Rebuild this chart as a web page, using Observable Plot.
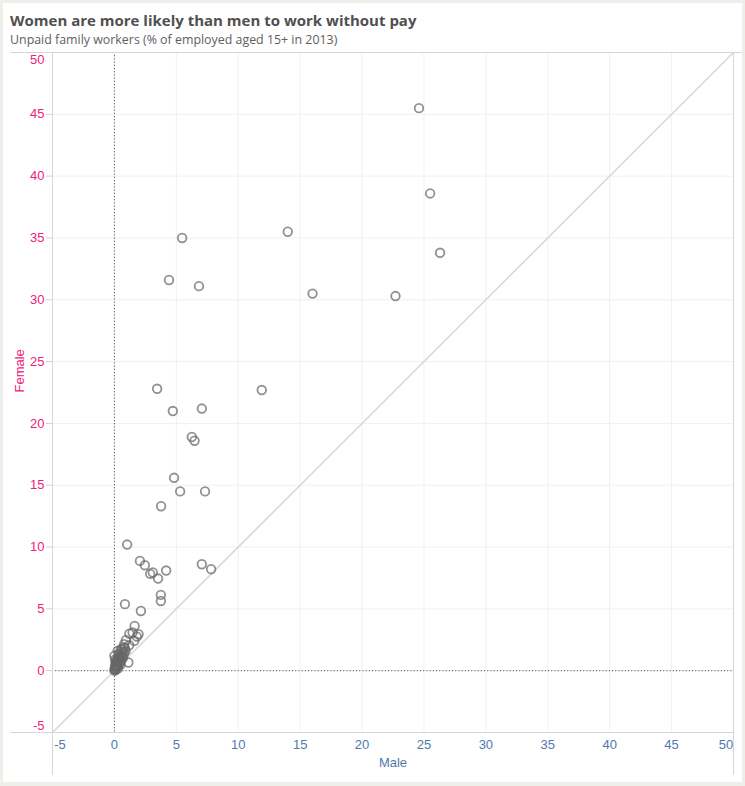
<!DOCTYPE html>
<html>
<head>
<meta charset="utf-8">
<script src="https://cdn.jsdelivr.net/npm/d3@7"></script>
<script src="https://cdn.jsdelivr.net/npm/@observablehq/plot@0.6"></script>
<style>
  html, body { margin: 0; padding: 0; background: #efefea; }
  #wrap { position: relative; width: 745px; height: 786px; overflow: hidden; }
  #panel { position: absolute; left: 3px; top: 3px; width: 739px; height: 779px; background: #fff; }
  #title { position: absolute; left: 10px; top: 10px; font-family: "Open Sans", "DejaVu Sans", sans-serif; font-weight: 700; font-size: 15px; color: #505050; white-space: nowrap; }
  #subtitle { position: absolute; left: 10px; top: 31px; font-family: "Open Sans", "DejaVu Sans", sans-serif; font-size: 12.4px; color: #606060; white-space: nowrap; }
  #chart svg { position: absolute; left: 0; top: 0; }
  .ln { position: absolute; background: #d6d6d6; }
</style>
</head>
<body>
<div id="wrap">
  <div id="panel"></div>
  <div id="chart"></div>
  <div class="ln" style="left:10px; top:51.5px; width:732px; height:1px;"></div>
  <div class="ln" style="left:10px; top:732px; width:723px; height:1px;"></div>
  <div class="ln" style="left:51.5px; top:52px; width:1px; height:723px;"></div>
  <div class="ln" style="left:733px; top:52px; width:1px; height:723px;"></div>
  <div id="title">Women are more likely than men to work without pay</div>
  <div id="subtitle">Unpaid family workers (% of employed aged 15+ in 2013)</div>
</div>
<script>
// Male (% of employed men who are unpaid family workers)
const male = [
  24.6, 25.5, 26.3, 14.0, 5.47, 4.41, 6.83, 16.0, 22.7,
  3.45, 11.9, 4.72, 7.06, 6.25, 6.47, 4.82, 5.31, 7.32, 3.77,
  1.03, 2.06, 2.46, 2.89, 3.10, 3.53, 4.18, 7.06, 7.81, 3.75, 3.75,
  0.85, 2.14, 1.63, 1.47, 1.21, 1.95, 1.81, 1.60, 0.93, 0.79, 1.19,
  0.52, 0.26, 1.13, 0.00,
  0.05, 0.10, 0.15, 0.20, 0.30, 0.25, 0.35, 0.40, 0.50, 0.45, 0.60, 0.55,
  0.70, 0.65, 0.80, 0.10, 0.00, 0.02, 0.05, 0.15, 0.30, 0.40, 0.20, 0.10,
  0.60, 0.75, 0.90, 0.30, 0.50, 0.05, 0.35, 0.70, 0.85, 0.12, 0.22, 0.45
];
// Female (% of employed women who are unpaid family workers)
const female = [
  45.5, 38.6, 33.8, 35.5, 35.0, 31.6, 31.1, 30.5, 30.3,
  22.8, 22.7, 21.0, 21.2, 18.9, 18.6, 15.6, 14.5, 14.5, 13.3,
  10.2, 8.88, 8.53, 7.83, 7.94, 7.45, 8.10, 8.61, 8.21, 6.13, 5.64,
  5.38, 4.83, 3.62, 3.09, 2.99, 2.95, 2.76, 2.41, 2.47, 2.14, 2.06,
  1.74, 1.60, 0.66, 1.20,
  0.10, 0.30, 0.20, 0.50, 0.40, 0.70, 0.90, 0.60, 1.00, 1.20, 1.30, 0.80,
  1.50, 1.10, 1.40, 0.05, 0.00, 0.15, 0.40, 0.60, 1.00, 1.40, 0.90, 0.70,
  1.70, 1.90, 1.60, 0.20, 0.50, 0.90, 1.25, 1.05, 1.80, 0.45, 0.35, 0.95
];
const tickValues = [-5, 0, 5, 10, 15, 20, 25, 30, 35, 40, 45, 50];
const xTitle = "Male";
const yTitle = "Female";

const points = male.map((m, i) => ({male: m, female: female[i]}));
const midTicks = tickValues.filter(t => t !== -5 && t !== 50);

const pink = "#f0207c";
const blue = "#4f79ab";
const tickFont = "'Liberation Sans Narrow', 'Liberation Sans', Arial, sans-serif";
const fs = 13;

const chart = Plot.plot({
  width: 745,
  height: 786,
  marginTop: 52,
  marginLeft: 52,
  marginRight: 12,
  marginBottom: 54,
  style: {background: "transparent", fontFamily: tickFont, fontSize: "12px", overflow: "visible"},
  x: {domain: [-5, 50], axis: null},
  y: {domain: [-5, 50], axis: null},
  marks: [
    Plot.gridX(tickValues, {stroke: "#f0f0f0", strokeOpacity: 1}),
    Plot.gridY(tickValues, {stroke: "#f0f0f0", strokeOpacity: 1}),
    Plot.link([{x1: -5, y1: -5, x2: 50, y2: 50}], {x1: "x1", y1: "y1", x2: "x2", y2: "y2", stroke: "#dadada", strokeWidth: 1.7}),
    Plot.ruleX([0], {stroke: "#444", strokeDasharray: "1,2.2", strokeWidth: 1}),
    Plot.ruleY([0], {stroke: "#444", strokeDasharray: "1,2.2", strokeWidth: 1}),
    Plot.axisY({ticks: tickValues, tickSize: 6, stroke: "#d0d0d0", text: null}),
    Plot.text(midTicks, {y: d => d, frameAnchor: "left", dx: -8, textAnchor: "end", fill: pink, fontSize: fs, fontFamily: tickFont}),
    Plot.text([50], {y: d => d, frameAnchor: "left", dx: -8, dy: 7, textAnchor: "end", fill: pink, fontSize: fs, fontFamily: tickFont}),
    Plot.text([-5], {y: d => d, frameAnchor: "left", dx: -8, dy: -6.5, textAnchor: "end", fill: pink, fontSize: fs, fontFamily: tickFont}),
    Plot.text(midTicks, {x: d => d, frameAnchor: "bottom", dy: 16, fill: blue, fontSize: fs, fontFamily: tickFont}),
    Plot.text([-5], {x: d => d, frameAnchor: "bottom", dy: 16, dx: 7.5, fill: blue, fontSize: fs, fontFamily: tickFont}),
    Plot.text([50], {x: d => d, frameAnchor: "bottom", dy: 16, dx: -7.5, fill: blue, fontSize: fs, fontFamily: tickFont}),
    Plot.text([xTitle], {frameAnchor: "bottom", dy: 34, fill: blue, fontSize: fs, fontFamily: tickFont}),
    Plot.text([yTitle], {frameAnchor: "left", dx: -33, rotate: -90, fill: pink, fontSize: fs, fontFamily: tickFont, letterSpacing: "1px"}),
    Plot.dot(points, {x: "male", y: "female", r: 4.3, stroke: "#666", strokeOpacity: 0.72, strokeWidth: 1.8, fill: "none"})
  ]
});
document.getElementById("chart").appendChild(chart);
</script>
</body>
</html>
